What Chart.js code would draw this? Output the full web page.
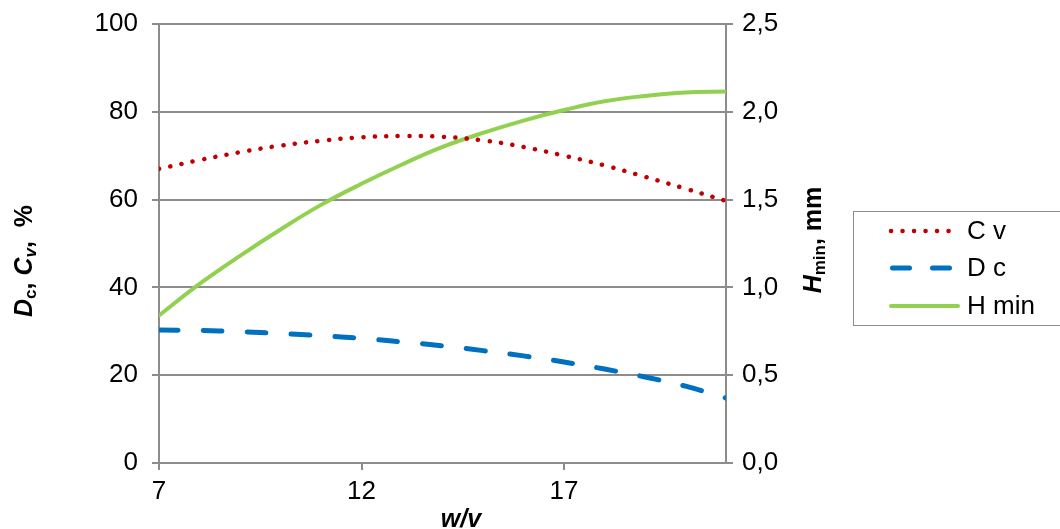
<!DOCTYPE html>
<html>
<head>
<meta charset="utf-8">
<script src="https://cdn.jsdelivr.net/npm/chart.js"></script>
<style>
  body { margin: 0; background: #fff; }
  #wrap { width: 1060px; height: 529px; }
</style>
</head>
<body>
<div id="wrap"><canvas id="canvas" width="1060" height="529"></canvas></div>
<script>
// data
var wv = [7, 8, 9, 10, 11, 12, 13, 14, 15, 16, 17, 18, 19, 20, 21];
var cv = [67.0, 69.0, 70.8, 72.3, 73.4, 74.2, 74.5, 74.3, 73.5, 72.0, 70.0, 67.8, 65.2, 62.5, 59.7];
var dc = [30.3, 30.2, 29.9, 29.5, 29.0, 28.4, 27.6, 26.7, 25.6, 24.4, 23.0, 21.4, 19.6, 17.5, 14.8];
var hmin = [0.84, 1.02, 1.18, 1.33, 1.47, 1.59, 1.70, 1.80, 1.88, 1.95, 2.01, 2.06, 2.09, 2.11, 2.115];
var xTicks = [7, 12, 17];
var leftTicks = [0, 20, 40, 60, 80, 100];
var rightTicks = [0, 0.5, 1.0, 1.5, 2.0, 2.5];

function pts(ys) {
  return wv.map(function (x, i) { return { x: x, y: ys[i] }; });
}

var FONT = "'Liberation Sans', Arial, sans-serif";
var gray = '#8c8c8c';

// axis titles with italics/subscripts + legend box
var extras = {
  id: 'extras',
  afterDraw: function (chart) {
    var ctx = chart.ctx;
    ctx.save();
    ctx.fillStyle = '#000';
    ctx.textBaseline = 'alphabetic';

    function runs(parts, cx, cy, rotate) {
      // parts: [text, italic, sub]
      var w = 0;
      parts.forEach(function (p) {
        ctx.font = (p[1] ? 'italic ' : '') + 'bold ' + (p[2] ? 17 : 25) + 'px ' + FONT;
        w += ctx.measureText(p[0]).width;
      });
      ctx.save();
      ctx.translate(cx, cy);
      if (rotate) ctx.rotate(-Math.PI / 2);
      var x = -w / 2;
      parts.forEach(function (p) {
        ctx.font = (p[1] ? 'italic ' : '') + 'bold ' + (p[2] ? 17 : 25) + 'px ' + FONT;
        ctx.fillText(p[0], x, p[2] ? 13 : 9);
        x += ctx.measureText(p[0]).width;
      });
      ctx.restore();
    }

    runs([['D', true, false], ['c', false, true], [', ', false, false], ['C', true, false], ['v', true, true], [',  %', false, false]], 23, 261, true);
    runs([['H', true, false], ['min', false, true], [', mm', false, false]], 812, 240, true);
    runs([['w/v', true, false]], 461, 518, false);

    // legend
    ctx.strokeStyle = gray;
    ctx.lineWidth = 1;
    ctx.strokeRect(853.5, 211.5, 220, 114);
    var rows = [231, 268, 306];
    chart.data.datasets.forEach(function (ds, i) {
      var y = rows[i];
      ctx.save();
      ctx.strokeStyle = ds.borderColor;
      ctx.lineWidth = ds.borderWidth;
      ctx.lineCap = ds.borderCapStyle || 'butt';
      ctx.setLineDash(ds.legendDash || ds.borderDash || []);
      ctx.beginPath();
      ctx.moveTo(ds.legendStart, y);
      ctx.lineTo(958, y);
      ctx.stroke();
      ctx.restore();
      ctx.font = '26px ' + FONT;
      ctx.textBaseline = 'middle';
      ctx.fillStyle = '#000';
      ctx.fillText(ds.label, 967, y + 1);
    });
    ctx.restore();
  }
};

function fixY(width) {
  return function (s) {
    s.width = width;
    s.paddingTop = 0;
    s.paddingBottom = 0;
  };
}

var ctx = document.getElementById('canvas').getContext('2d');
var myChart = new Chart(ctx, {
  type: 'line',
  data: {
    datasets: [{
      label: 'C v',
      data: pts(cv),
      yAxisID: 'y',
      borderColor: '#c00000',
      borderWidth: 4.5,
      borderDash: [0.1, 11.4],
      borderCapStyle: 'round',
      legendStart: 891,
      pointRadius: 0,
      tension: 0.4
    }, {
      label: 'D c',
      data: pts(dc),
      yAxisID: 'y',
      borderColor: '#0070c0',
      borderWidth: 5,
      borderDash: [19, 25],
      legendDash: [17, 23],
      borderCapStyle: 'round',
      legendStart: 892.5,
      pointRadius: 0,
      tension: 0.4
    }, {
      label: 'H min',
      data: pts(hmin),
      yAxisID: 'y1',
      borderColor: '#92d050',
      borderWidth: 4,
      borderCapStyle: 'round',
      legendStart: 891,
      pointRadius: 0,
      tension: 0.4
    }]
  },
  options: {
    responsive: false,
    animation: false,
    layout: { padding: { top: 24, left: 0, right: 0, bottom: 0 } },
    plugins: { legend: { display: false }, tooltip: { enabled: false } },
    scales: {
      x: {
        type: 'linear',
        min: 7,
        max: 21,
        afterBuildTicks: function (s) { s.ticks = xTicks.map(function (v) { return { value: v }; }); },
        afterFit: function (s) { s.height = 66; s.paddingLeft = 0; s.paddingRight = 0; },
        grid: { drawOnChartArea: false, color: gray, lineWidth: 2, tickLength: 7 },
        border: { color: gray, width: 2 },
        ticks: { color: '#000', font: { family: FONT, size: 26 }, padding: 6, maxRotation: 0 }
      },
      y: {
        position: 'left',
        min: 0,
        max: 100,
        afterBuildTicks: function (s) { s.ticks = leftTicks.map(function (v) { return { value: v }; }); },
        afterFit: fixY(159),
        grid: { color: gray, lineWidth: 2, tickLength: 7 },
        border: { color: gray, width: 2 },
        ticks: { color: '#000', font: { family: FONT, size: 26 }, padding: 14 }
      },
      y1: {
        position: 'right',
        min: 0,
        max: 2.5,
        afterBuildTicks: function (s) { s.ticks = rightTicks.map(function (v) { return { value: v }; }); },
        afterFit: fixY(334),
        grid: { drawOnChartArea: false, color: gray, lineWidth: 2, tickLength: 7 },
        border: { color: gray, width: 2 },
        ticks: {
          color: '#000', font: { family: FONT, size: 26 }, padding: 9,
          callback: function (v) { return v.toFixed(1).replace('.', ','); }
        }
      }
    }
  },
  plugins: [extras]
});
</script>
</body>
</html>
